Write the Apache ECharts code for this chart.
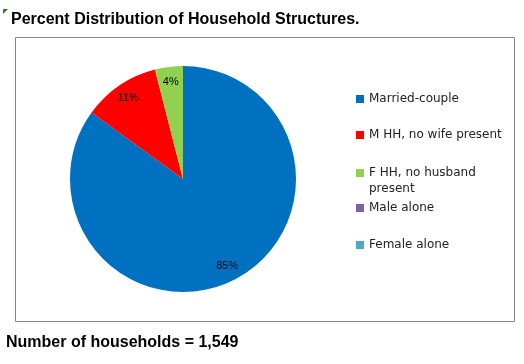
<!DOCTYPE html>
<html>
<head>
<meta charset="utf-8">
<script src="https://cdn.jsdelivr.net/npm/echarts@6/dist/echarts.min.js"></script>
<style>html,body{margin:0;padding:0;background:#fff}#c{width:524px;height:364px}</style>
</head>
<body>
<div id="c"></div>
<script>
const categories = ['Married-couple', 'M HH, no wife present', 'F HH, no husband present', 'Male alone', 'Female alone'];
const legendLabels = ['Married-couple', 'M HH, no wife present', 'F HH, no husband\npresent', 'Male alone', 'Female alone'];
const percents = [85, 11, 4, 0, 0];
const colors = ['#0070C0', '#FF0000', '#92D050', '#8064A2', '#4BACC6'];
const titleText = 'Percent Distribution of Household Structures.';
const footerText = 'Number of households = 1,549';

const data = categories.map((n, i) => ({ name: n, value: percents[i], itemStyle: { color: colors[i] } }));
const labelData = categories.map((n, i) => ({ name: n, value: percents[i], itemStyle: { color: 'rgba(0,0,0,0)' } }));

const legendTops = [88, 124, 160, 197, 234];
const legends = categories.map((n, i) => ({
  data: [n],
  orient: 'vertical',
  left: 351,
  top: legendTops[i],
  icon: i === 2 ? 'path://M0,0L8,0L8,8L0,8Z M0,24L0.01,24L0.01,23.99Z' : 'rect',
  itemWidth: 8,
  itemHeight: i === 2 ? 24 : 8,
  itemGap: 6,
  selectedMode: false,
  formatter: () => legendLabels[i],
  textStyle: i === 2
    ? { fontFamily: 'DejaVu Sans', fontSize: 12, color: '#222', lineHeight: 16 }
    : { fontFamily: 'DejaVu Sans', fontSize: 12, color: '#222' }
}));

const chart = echarts.init(document.getElementById('c'), null, { renderer: 'canvas' });
chart.setOption({
  animation: false,
  title: [
    { text: titleText, left: 6, top: 7, textStyle: { fontFamily: 'Liberation Sans', fontWeight: 'bold', fontSize: 16, color: '#000' } },
    { text: footerText, left: 1, top: 330, textStyle: { fontFamily: 'Liberation Sans', fontWeight: 'bold', fontSize: 16, color: '#000' } }
  ],
  legend: legends,
  graphic: [
    { type: 'rect', shape: { x: 15.5, y: 37.5, width: 499, height: 284 }, style: { fill: 'none', stroke: '#888', lineWidth: 1 }, silent: true, z: -1 },
    { type: 'polygon', shape: { points: [[3, 9], [8, 9], [3, 14]] }, style: { fill: '#1a8a1a' }, silent: true }
  ],
  series: [
    {
      type: 'pie',
      center: [183, 179],
      radius: [0, 113],
      startAngle: 90,
      clockwise: true,
      data: data,
      label: { show: false },
      labelLine: { show: false },
      emphasis: { disabled: true },
      silent: true
    },
    {
      type: 'pie',
      center: [183, 179],
      radius: [76, 113],
      startAngle: 90,
      clockwise: true,
      data: labelData,
      label: {
        show: true,
        position: 'inside',
        formatter: p => p.value > 0 ? p.value + '%' : '',
        fontFamily: 'Liberation Sans',
        fontSize: 11,
        color: '#000'
      },
      labelLine: { show: false },
      emphasis: { disabled: true },
      silent: true
    }
  ]
});
</script>
</body>
</html>
